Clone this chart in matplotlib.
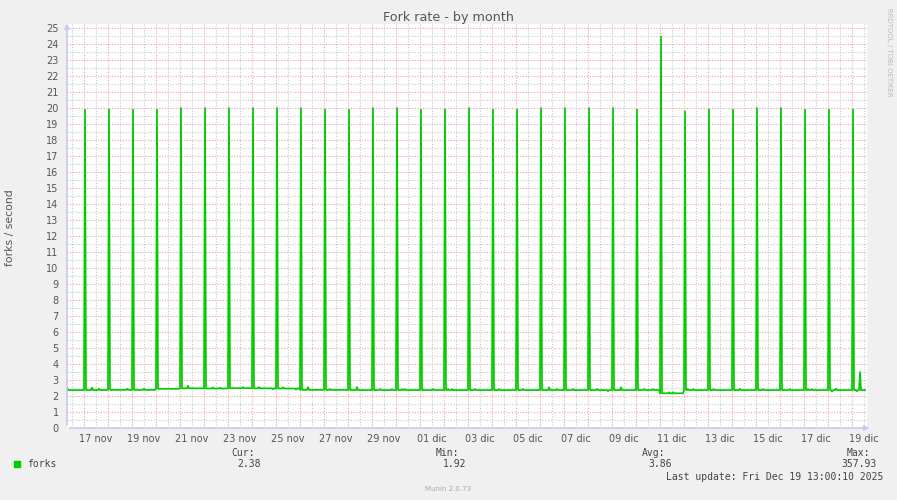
import matplotlib.pyplot as plt
import numpy as np

plt.rcParams['font.family'] = 'DejaVu Sans'
plt.rcParams['axes.unicode_minus'] = False

# baseline level of each day (16 nov partial .. 19 dic)
base_level = [2.37, 2.37, 2.38, 2.38, 2.45, 2.48, 2.47, 2.49, 2.48, 2.47,
              2.38, 2.38, 2.37, 2.37, 2.37, 2.37, 2.37, 2.37, 2.37, 2.37,
              2.37, 2.37, 2.37, 2.37, 2.37, 2.17, 2.37, 2.37, 2.37, 2.37,
              2.37, 2.37, 2.37, 2.37]
# daily midnight spike (17 nov .. 19 dic)
spike_peak = [19.9, 19.9, 19.9, 19.9, 20.0, 20.0, 20.0, 20.0, 20.0, 20.0,
              19.9, 19.9, 20.0, 20.0, 19.9, 19.9, 20.0, 19.9, 19.9, 20.0,
              20.0, 20.0, 20.0, 19.9, 24.45, 19.8, 19.9, 19.9, 20.0, 20.0,
              19.9, 19.9, 19.9]
# small bumps / dips, hours from 17 nov 00:00
bump_hours = [-17, 8, 15, 43, 60, 104, 129, 136, 159, 175, 189, 199, 212, 224,
              246, 273, 296, 308, 318, 321, 349, 364, 368, 391, 415, 439, 465,
              473, 489, 513, 524, 537, 560, 569, 585, 589, 604, 609, 630, 656,
              679, 706, 724, 728, 748, 752, 773, 776]
bump_values = [2.55, 2.52, 2.45, 2.45, 2.45, 2.64, 2.53, 2.52, 2.55, 2.56, 2.42,
               2.54, 2.40, 2.55, 2.43, 2.56, 2.43, 2.42, 2.43, 2.43, 2.43, 2.43,
               2.43, 2.43, 2.43, 2.43, 2.55, 2.43, 2.43, 2.43, 2.30, 2.55, 2.43,
               2.43, 2.23, 2.23, 2.43, 2.43, 2.43, 2.45, 2.43, 2.43, 2.43, 2.43,
               2.27, 2.45, 2.30, 3.50]

tick_labels = ['17 nov', '19 nov', '21 nov', '23 nov', '25 nov', '27 nov',
               '29 nov', '01 dic', '03 dic', '05 dic', '07 dic', '09 dic',
               '11 dic', '13 dic', '15 dic', '17 dic', '19 dic']

stats_names = ['Cur:', 'Min:', 'Avg:', 'Max:']
stats_values = ['2.38', '1.92', '3.86', '357.93']

# hourly series
hours = np.arange(-17, 782)
values = np.array([base_level[h // 24 + 1] for h in hours], dtype=float)
for k, peak in enumerate(spike_peak):
    values[hours == 24 * k + 1] = peak
for h, v in zip(bump_hours, bump_values):
    values[hours == h] = v

W, H = 897, 500
fig = plt.figure(figsize=(W / 100, H / 100), dpi=100, facecolor='#F0F0F0')
ax = fig.add_axes([67 / W, (H - 428) / H, 800 / W, 404 / H])
ax.set_facecolor('white')
ax.set_xlim(-17, 783)
ax.set_ylim(0, 404 / 16)

red = '#F5A0A0'
grey = '#C8C8C8'
dot = (0, (1, 1.5))
for d in range(-1, 33):
    ax.axvline(24 * d + 12, color=grey, lw=0.8, ls=dot, zorder=1)
for d in range(0, 33):
    ax.axvline(24 * d, color=red, lw=0.8, ls=dot, zorder=1)
for y in range(0, 26):
    ax.axhline(y + 0.5, color=grey, lw=0.8, ls=dot, zorder=1)
    ax.axhline(y, color=red, lw=0.8, ls=dot, zorder=1)

ax.plot(hours, values, color='#00CC00', lw=1.25, zorder=3)

for s in ax.spines.values():
    s.set_visible(False)
axis_col = '#C8C8F0'
ax.annotate('', xy=(-17, 404 / 16 + 0.2), xytext=(-17, 0),
            arrowprops=dict(arrowstyle='-|>', color=axis_col, lw=1.2, mutation_scale=7),
            annotation_clip=False, zorder=4)
ax.annotate('', xy=(788, 0), xytext=(-17, 0),
            arrowprops=dict(arrowstyle='-|>', color=axis_col, lw=1.2, mutation_scale=7),
            annotation_clip=False, zorder=4)

ax.set_yticks(range(0, 26))
ax.set_yticklabels([str(i) for i in range(0, 26)])
ax.set_xticks([12 + 48 * i for i in range(len(tick_labels))])
ax.set_xticklabels(tick_labels)
ax.tick_params(axis='both', length=0, labelsize=7, labelcolor='#555555')
ax.tick_params(axis='y', pad=6)
ax.tick_params(axis='x', pad=4)

fig.text(448 / W, 1 - 18 / H, 'Fork rate - by month', ha='center', va='center',
         fontsize=9.2, color='#555555')
fig.text(10 / W, 1 - 228 / H, 'forks / second', rotation=90, ha='center',
         va='center', fontsize=7.8, color='#555555')
fig.text(889 / W, 1 - 52 / H, 'RRDTOOL / TOBI OETIKER', rotation=270,
         ha='center', va='center', fontsize=5, color='#BBBBBB')

mono = 'DejaVu Sans Mono'
fig.patches.append(plt.Rectangle((14 / W, 1 - 467 / H), 6 / W, 6 / H,
                                 transform=fig.transFigure, color='#00CC00'))
fig.text(27 / W, 1 - 464 / H, 'forks', ha='left', va='center', fontsize=7,
         family=mono, color='#444444')
name_right = [255, 459, 665, 870]
value_right = [261, 466, 672, 877]
for n, v, xn, xv in zip(stats_names, stats_values, name_right, value_right):
    fig.text(xn / W, 1 - 452.5 / H, n, ha='right', va='center', fontsize=7,
             family=mono, color='#444444')
    fig.text(xv / W, 1 - 464 / H, v, ha='right', va='center', fontsize=7,
             family=mono, color='#444444')
fig.text(883 / W, 1 - 476.5 / H, 'Last update: Fri Dec 19 13:00:10 2025',
         ha='right', va='center', fontsize=7, family=mono, color='#444444')
fig.text(448 / W, 1 - 489 / H, 'Munin 2.0.73', ha='center', va='center',
         fontsize=5, color='#AAAAAA')

fig.savefig('out.png', dpi=100, facecolor=fig.get_facecolor())
